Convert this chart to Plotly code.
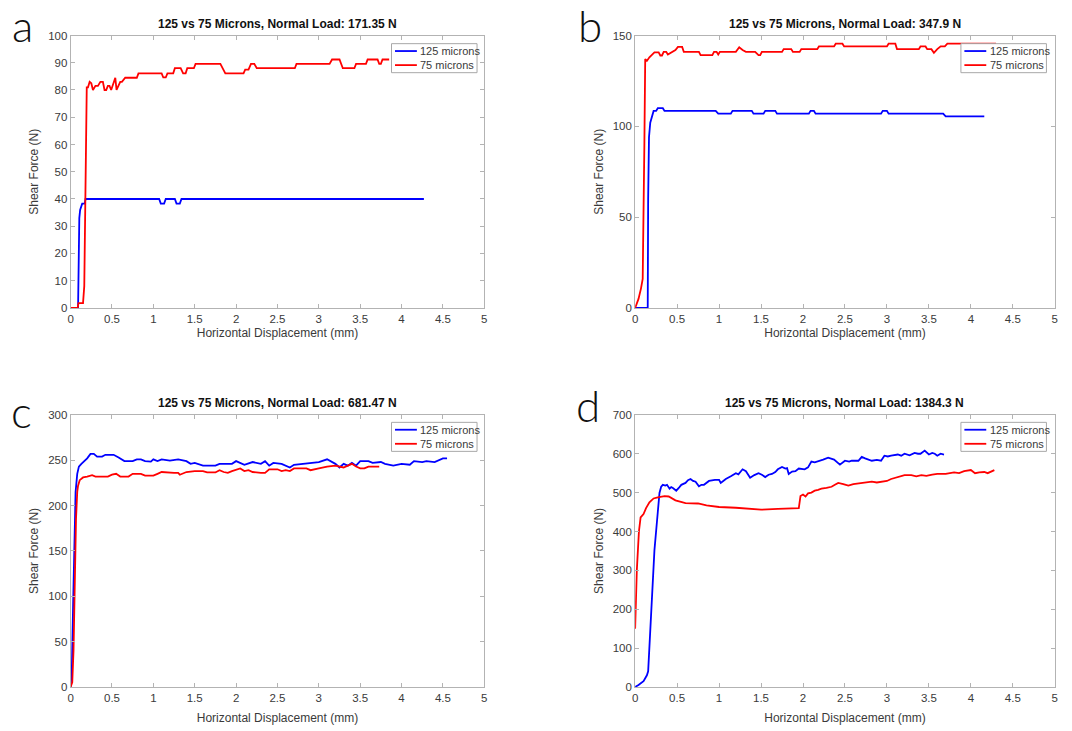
import plotly.graph_objects as go

# ---------------- data ----------------
panel_titles = [
    "125 vs 75 Microns, Normal Load: 171.35 N",
    "125 vs 75 Microns, Normal Load: 347.9 N",
    "125 vs 75 Microns, Normal Load: 681.47 N",
    "125 vs 75 Microns, Normal Load: 1384.3 N",
]
panel_letters = ["a", "b", "c", "d"]
series_names = ["125 microns", "75 microns"]
x_ticks = [0, 0.5, 1, 1.5, 2, 2.5, 3, 3.5, 4, 4.5, 5]
y_ranges = [[0, 100], [0, 150], [0, 300], [0, 700]]
y_dticks = [10, 50, 50, 100]

# panel a (171.35 N)
a_x_125 = [0, 0.09, 0.105, 0.115, 0.14, 0.17, 0.18, 1.07, 1.09, 1.13, 1.15,
           1.26, 1.28, 1.32, 1.34, 4.27]
a_y_125 = [0, 0, 33, 36, 38.3, 38.3, 40, 40, 38.3, 38.3, 40,
           40, 38.3, 38.3, 40, 40]
a_x_75 = [0, 0.085, 0.095, 0.15, 0.165, 0.185, 0.195, 0.21, 0.23, 0.25, 0.27,
          0.3, 0.33, 0.36, 0.39, 0.41, 0.43, 0.45, 0.47, 0.49, 0.52, 0.54,
          0.555, 0.57, 0.6, 0.62, 0.66, 0.8, 0.82, 1.1, 1.12, 1.15, 1.17,
          1.24, 1.26, 1.33, 1.36, 1.39, 1.41, 1.49, 1.51, 1.81, 1.87, 2.09,
          2.11, 2.15, 2.18, 2.22, 2.25, 2.71, 2.73, 3.13, 3.16, 3.25, 3.29,
          3.43, 3.45, 3.57, 3.59, 3.71, 3.73, 3.75, 3.77, 3.85]
a_y_75 = [0, 0, 1.8, 1.8, 8, 60, 81, 81, 83, 82.5, 80,
          81.5, 81.5, 83, 83, 80, 80, 81.5, 81.5, 80, 83, 84.5,
          80, 81, 83, 83, 84.5, 84.5, 86.1, 86.1, 84.6, 84.6, 86.1,
          86.1, 88, 88, 86.1, 86.1, 88, 88, 89.6, 89.6, 86.1, 86.1,
          87.5, 87.5, 89.6, 89.6, 88, 88, 89.6, 89.6, 91.2, 91.2, 88,
          88, 89.6, 89.6, 91.2, 91.2, 89.6, 89.6, 91.2, 91.2]

# panel b (347.9 N)
b_x_125 = [0, 0.15, 0.155, 0.165, 0.18, 0.2, 0.22, 0.25, 0.27, 0.33, 0.35,
           0.96, 0.99, 1.14, 1.16, 1.39, 1.41, 1.53, 1.55, 1.67, 1.69, 2.07,
           2.09, 2.13, 2.15, 2.93, 2.95, 3.0, 3.02, 3.67, 3.7, 4.16]
b_y_125 = [0, 0, 60, 94, 102, 106, 108.5, 108.5, 110, 110, 108.5,
           108.5, 107, 107, 108.5, 108.5, 107, 107, 108.5, 108.5, 107, 107,
           108.5, 108.5, 107, 107, 108.5, 108.5, 107, 107, 105.5, 105.5]
b_x_75 = [0, 0.04, 0.07, 0.09, 0.11, 0.12, 0.14, 0.17, 0.23, 0.28, 0.3,
          0.32, 0.34, 0.37, 0.39, 0.45, 0.48, 0.51, 0.56, 0.58, 0.76, 0.78,
          0.92, 0.94, 0.97, 0.99, 1.01, 1.2, 1.24, 1.28, 1.32, 1.43, 1.47,
          1.49, 1.51, 1.75, 1.77, 1.86, 1.88, 1.96, 1.98, 2.17, 2.19, 2.37,
          2.39, 2.47, 2.49, 3.0, 3.02, 3.1, 3.12, 3.38, 3.4, 3.46, 3.48,
          3.53, 3.56, 3.6, 3.64, 3.69, 3.72, 4.3]
b_y_75 = [0, 5, 10.8, 16, 90, 137, 136, 138, 140.7, 140.7, 139,
          139, 141, 141, 139.5, 141, 142, 143.7, 143.7, 141, 141, 139.2,
          139.2, 141, 141, 139.5, 141, 141, 143.5, 142, 141, 141, 139.2,
          139.2, 141, 141, 142.5, 142.5, 141, 141, 142.5, 142.5, 144, 144,
          145.5, 145.5, 144, 144, 145.5, 145.5, 142.5, 142.5, 144, 144, 142.5,
          142.5, 140.5, 142.5, 144, 144, 145.5, 145.5]

# panel c (681.47 N)
c_x_125 = [0, 0.015, 0.03, 0.045, 0.06, 0.08, 0.1, 0.13, 0.17, 0.2, 0.24,
           0.28, 0.32, 0.38, 0.42, 0.52, 0.58, 0.65, 0.75, 0.8, 0.85, 0.9,
           0.97, 1.0, 1.05, 1.1, 1.2, 1.3, 1.4, 1.45, 1.5, 1.6, 1.75, 1.8,
           1.95, 2.0, 2.1, 2.2, 2.3, 2.35, 2.4, 2.45, 2.55, 2.65, 2.7, 2.8,
           2.9, 3.0, 3.1, 3.2, 3.25, 3.3, 3.35, 3.4, 3.45, 3.5, 3.6, 3.65,
           3.75, 3.8, 3.9, 4.0, 4.1, 4.15, 4.25, 4.3, 4.4, 4.45, 4.5, 4.55]
c_y_125 = [0, 20, 90, 170, 215, 235, 243, 246, 249, 252, 257,
           257, 254, 254, 256, 256, 253, 249, 249, 251, 251, 249,
           248.5, 251, 249, 251, 249.5, 251, 249, 246, 247, 244, 244, 246,
           246, 249, 245, 248, 246, 249, 244, 247, 246, 242, 245, 246,
           247, 248, 251, 246, 242, 246, 244, 247, 244, 249, 249, 247,
           248, 246, 244, 246, 245, 249, 248, 249, 248, 250, 252, 252]
c_x_75 = [0, 0.02, 0.035, 0.05, 0.065, 0.08, 0.09, 0.11, 0.15, 0.2, 0.26,
          0.3, 0.45, 0.5, 0.55, 0.6, 0.7, 0.75, 0.85, 0.9, 1.0, 1.05,
          1.1, 1.25, 1.3, 1.32, 1.4, 1.5, 1.6, 1.65, 1.75, 1.8, 1.85, 1.9,
          1.95, 2.05, 2.1, 2.15, 2.2, 2.3, 2.35, 2.4, 2.5, 2.55, 2.6, 2.65,
          2.7, 2.85, 2.9, 3.0, 3.1, 3.2, 3.3, 3.35, 3.4, 3.45, 3.5, 3.55,
          3.6, 3.73]
c_y_75 = [0, 5, 40, 120, 185, 215, 222, 228, 231, 232, 233.5,
          232, 232, 234, 235, 232, 232, 235, 235, 233, 233, 235,
          237, 236, 236, 234, 237, 238, 238, 236.5, 236.5, 239, 237, 236,
          238, 241, 238, 239, 237, 236, 236, 240, 240, 238, 239, 238,
          241, 241, 239, 241, 243, 244, 242, 244, 246, 243, 241, 241,
          243, 243]

# panel d (1384.3 N)
d_x_125 = [0, 0.04, 0.1, 0.14, 0.155, 0.19, 0.23, 0.27, 0.29, 0.31, 0.33,
           0.36, 0.38, 0.41, 0.43, 0.45, 0.47, 0.49, 0.52, 0.55, 0.6, 0.63,
           0.66, 0.69, 0.72, 0.76, 0.79, 0.82, 0.88, 0.92, 0.95, 1.0, 1.02,
           1.05, 1.08, 1.14, 1.2, 1.23, 1.28, 1.32, 1.37, 1.42, 1.47, 1.51,
           1.55, 1.59, 1.63, 1.67, 1.7, 1.75, 1.79, 1.81, 1.83, 1.87, 1.91,
           1.95, 2.02, 2.06, 2.1, 2.14, 2.18, 2.24, 2.3, 2.34, 2.37, 2.44,
           2.5, 2.55, 2.58, 2.66, 2.7, 2.74, 2.76, 2.82, 2.88, 2.93, 2.97,
           3.01, 3.05, 3.09, 3.13, 3.17, 3.21, 3.27, 3.33, 3.37, 3.4, 3.45,
           3.5, 3.54, 3.57, 3.6, 3.64, 3.68]
d_y_125 = [0, 5, 15, 30, 40, 200, 352, 450, 499, 515, 520,
           518, 520, 510, 514, 512, 508, 505, 512, 520, 525, 532,
           535, 530, 528, 516, 520, 520, 530, 532, 533, 533, 525,
           530, 535, 542, 550, 547, 560, 555, 538, 545, 550, 546,
           540, 546, 548, 553, 560, 566, 562, 563, 548, 554, 555,
           562, 560, 565, 580, 578, 580, 585, 590, 587, 585, 572,
           582, 580, 582, 582, 592, 588, 586, 582, 584, 582, 595,
           593, 595, 596, 598, 595, 600, 596, 602, 600, 600, 608,
           598, 602, 600, 595, 600, 598]
d_x_75 = [0, 0.02, 0.045, 0.065, 0.1, 0.13, 0.17, 0.22, 0.27, 0.35, 0.4,
          0.48, 0.6, 0.75, 0.85, 1.0, 1.2, 1.4, 1.5, 1.7, 1.95, 1.97,
          2.0, 2.03, 2.06, 2.1, 2.14, 2.18, 2.22, 2.28, 2.34, 2.38, 2.42,
          2.48, 2.54, 2.6, 2.66, 2.72, 2.82, 2.88, 2.93, 3.0, 3.05, 3.12,
          3.21, 3.29, 3.35, 3.41, 3.47, 3.54, 3.6, 3.7, 3.8, 3.86, 3.92,
          4.0, 4.05, 4.1, 4.16, 4.2, 4.24, 4.28]
d_y_75 = [150, 300, 400, 436, 445, 460, 475, 485, 488, 491, 490,
          480, 473, 472, 467, 463, 461, 458, 456, 458, 460, 491,
          495, 490, 498, 500, 505, 507, 510, 512, 515, 520, 525,
          522, 518, 522, 524, 526, 528, 526, 528, 530, 535, 540,
          545, 545, 542, 545, 543, 546, 548, 548, 552, 550, 555,
          558, 550, 552, 553, 550, 555, 558]

panels = [
    (a_x_125, a_y_125, a_x_75, a_y_75),
    (b_x_125, b_y_125, b_x_75, b_y_75),
    (c_x_125, c_y_125, c_x_75, c_y_75),
    (d_x_125, d_y_125, d_x_75, d_y_75),
]

# ---------------- layout geometry (pixels) ----------------
W, H = 1072, 731
col_px = [(68, 484), (635.7, 1057.7)]
row_px = [(30, 307), (415.7, 692.3)]
xtitle_standoff = [4, 10]
legend_px = [(390.7, 38.3), (963.3, 38.3), (390.7, 423.3), (963.3, 423.3)]
legend_size = (86, 29.5)
letter_px = [(20, 19.5), (590.5, 19.5), (19, 412), (588, 406)]

FONT = "Liberation Sans"
AXIS_GRAY = "#b3b3b3"
TEXT_GRAY = "#3a3a3a"
colors = ["#0000ff", "#ff0000"]
LINE_W = 1.8


def px_x(v):
    return v / W


def px_y(v):
    return 1 - v / H


fig = go.Figure()
layout = dict(
    width=W, height=H,
    margin=dict(l=0, r=0, t=0, b=0),
    paper_bgcolor="white", plot_bgcolor="white",
    font=dict(family=FONT, size=11, color=TEXT_GRAY),
    showlegend=False,
    annotations=[],
    shapes=[],
)

for i, (x125, y125, x75, y75) in enumerate(panels):
    r, c = divmod(i, 2)
    k = "" if i == 0 else str(i + 1)
    for xs, ys, name, col in [(x125, y125, series_names[0], colors[0]),
                              (x75, y75, series_names[1], colors[1])]:
        fig.add_trace(go.Scatter(
            x=xs, y=ys, mode="lines", name=name,
            line=dict(color=col, width=LINE_W),
            xaxis=f"x{k}", yaxis=f"y{k}",
        ))
    x0, x1 = col_px[c]
    y0, y1 = row_px[r]
    common = dict(
        showgrid=False, zeroline=False, showline=True, linecolor=AXIS_GRAY,
        linewidth=1, mirror="ticks", ticks="inside", ticklen=4,
        tickcolor=AXIS_GRAY,
        tickfont=dict(family=FONT, size=11.5, color=TEXT_GRAY),
    )
    layout[f"xaxis{k}"] = dict(
        common, domain=[px_x(x0), px_x(x1)], range=[0, 5],
        tickvals=x_ticks, ticktext=[f"{t:g}" for t in x_ticks],
        anchor=f"y{k}",
        title=dict(text="Horizontal Displacement (mm)",
                   standoff=xtitle_standoff[r],
                   font=dict(family=FONT, size=12, color=TEXT_GRAY)),
    )
    layout[f"yaxis{k}"] = dict(
        common, domain=[px_y(y1), px_y(y0)], range=y_ranges[i],
        dtick=y_dticks[i], anchor=f"x{k}",
        title=dict(text="Shear Force (N)", standoff=6,
                   font=dict(family=FONT, size=12, color=TEXT_GRAY)),
    )

    # legend box with line samples and labels
    lx, ly = legend_px[i]
    lw, lh = legend_size
    layout["shapes"].append(dict(
        type="rect", xref="paper", yref="paper", layer="above",
        x0=px_x(lx), x1=px_x(lx + lw), y0=px_y(ly + lh), y1=px_y(ly),
        fillcolor="white", line=dict(color="#a8a8a8", width=1),
    ))
    for j, (name, col) in enumerate(zip(series_names, colors)):
        row_y = ly + 7.5 + j * 14.3
        layout["shapes"].append(dict(
            type="line", xref="paper", yref="paper", layer="above",
            x0=px_x(lx + 3.5), x1=px_x(lx + 25.5),
            y0=px_y(row_y), y1=px_y(row_y),
            line=dict(color=col, width=LINE_W),
        ))
        layout["annotations"].append(dict(
            text=name, xref="paper", yref="paper",
            x=px_x(lx + 27), y=px_y(row_y), xanchor="left", yanchor="middle",
            showarrow=False,
            font=dict(family=FONT, size=11, color=TEXT_GRAY),
        ))

    # panel title
    layout["annotations"].append(dict(
        text=f"<b>{panel_titles[i]}</b>", xref="paper", yref="paper",
        x=px_x((x0 + x1) / 2), y=px_y(y0 - 3), xanchor="center",
        yanchor="bottom", showarrow=False,
        font=dict(family=FONT, size=12, color="#111111"),
    ))
    # panel letter
    px, py = letter_px[i]
    layout["annotations"].append(dict(
        text=panel_letters[i], xref="paper", yref="paper",
        x=px_x(px), y=px_y(py), xanchor="center", yanchor="middle",
        showarrow=False,
        font=dict(family="Lato", size=44, color="#111111", weight=300),
    ))

fig.update_layout(**layout)
fig.write_html("out.html")
